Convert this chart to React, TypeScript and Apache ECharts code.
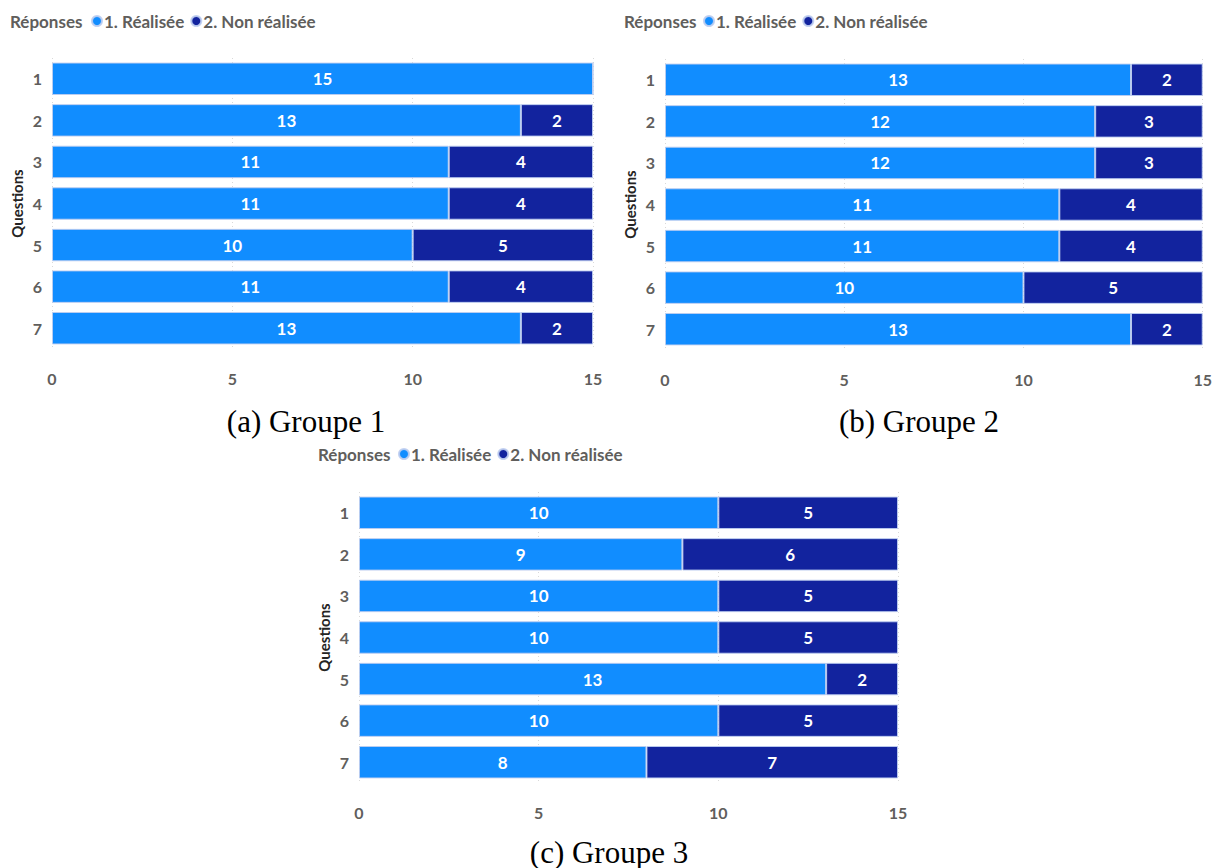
import React, { useEffect, useRef } from "react";
import * as echarts from "echarts";

const questions = ["1", "2", "3", "4", "5", "6", "7"];
const seriesNames = ["1. Réalisée", "2. Non réalisée"];
const xTicks = { min: 0, max: 15, interval: 5 };

const g1Done = [15, 13, 11, 11, 10, 11, 13];
const g1NotDone = [0, 2, 4, 4, 5, 4, 2];
const g2Done = [13, 12, 12, 11, 11, 10, 13];
const g2NotDone = [2, 3, 3, 4, 4, 5, 2];
const g3Done = [10, 9, 10, 10, 13, 10, 8];
const g3NotDone = [5, 6, 5, 5, 2, 5, 7];

const captions = ["(a) Groupe 1", "(b) Groupe 2", "(c) Groupe 3"];
const legendTitle = "Réponses";
const axisName = "Questions";

const LIGHT = "#118DFF";
const DARK = "#12239E";
const GRAY = "#605E5C";
const FONT = "Lato, 'Open Sans', sans-serif";

export default function App() {
  const ref = useRef<HTMLDivElement>(null);
  useEffect(() => {
    document.body.style.margin = "0";
    const chart = echarts.init(ref.current!, null, { renderer: "svg" });
    const grids = [
      { left: 52, top: 58, width: 541, height: 291 },
      { left: 665, top: 59, width: 538, height: 291 },
      { left: 359, top: 492, width: 539, height: 291 },
    ];
    const data = [
      [g1Done, g1NotDone],
      [g2Done, g2NotDone],
      [g3Done, g3NotDone],
    ];
    const legendPos = [
      { title: 10, legend: 91, top: 12 },
      { title: 624, legend: 703, top: 12 },
      { title: 318, legend: 398, top: 445 },
    ];
    const captionPos = [
      { x: 306, y: 421 },
      { x: 919, y: 421 },
      { x: 609, y: 852 },
    ];
    const series: any[] = [];
    data.forEach((pair, gi) => {
      pair.forEach((vals, si) => {
        series.push({
          type: "bar",
          name: seriesNames[si],
          stack: "g" + gi,
          xAxisIndex: gi,
          yAxisIndex: gi,
          barCategoryGap: "22%",
          itemStyle: {
            color: si === 0 ? LIGHT : DARK,
            borderColor: "rgba(190,205,240,0.9)",
            borderWidth: 1,
          },
          label: {
            show: true,
            position: "inside",
            color: "#ffffff",
            fontWeight: "bold",
            fontSize: 17,
            fontFamily: FONT,
            formatter: (p: any) => (p.value > 0 ? String(p.value) : ""),
          },
          data: vals,
        });
      });
    });
    chart.setOption({
      animation: false,
      grid: grids.map((g) => ({ ...g, containLabel: false })),
      title: legendPos.map((l) => ({
        text: legendTitle,
        left: l.title,
        top: l.top,
        padding: 0,
        textStyle: { color: GRAY, fontWeight: "bold", fontSize: 17, fontFamily: FONT, lineHeight: 18 },
      })),
      legend: legendPos.map((l) => ({
        data: seriesNames,
        left: l.legend,
        top: l.top,
        icon: "circle",
        itemWidth: 10,
        itemHeight: 10,
        itemGap: 6,
        padding: 0,
        textStyle: { color: GRAY, fontWeight: "bold", fontSize: 17, fontFamily: FONT, lineHeight: 18, padding: [0, 0, 0, -3] },
      })),
      xAxis: grids.map((_, i) => ({
        type: "value",
        gridIndex: i,
        min: xTicks.min,
        max: xTicks.max,
        interval: xTicks.interval,
        axisLine: { show: false },
        axisTick: { show: false },
        splitLine: { show: true, lineStyle: { color: "#d9d9d9", type: [1, 3] } },
        axisLabel: { color: GRAY, fontWeight: "bold", fontSize: 16, fontFamily: FONT, margin: 21 },
      })),
      yAxis: grids.map((_, i) => ({
        type: "category",
        gridIndex: i,
        inverse: true,
        data: questions,
        axisLine: { show: false },
        axisTick: { show: false },
        splitLine: { show: false },
        axisLabel: { color: GRAY, fontWeight: "bold", fontSize: 16, fontFamily: FONT, margin: 10 },
        name: axisName,
        nameLocation: "middle",
        nameRotate: 90,
        nameGap: 28,
        nameTextStyle: { color: "#252423", fontWeight: "bold", fontSize: 15, fontFamily: FONT },
      })),
      series,
      graphic: captions.map((c, i) => ({
        type: "text",
        x: captionPos[i].x,
        y: captionPos[i].y,
        style: {
          text: c,
          fill: "#000000",
          font: "31px 'Liberation Serif', serif",
          textAlign: "center",
          textVerticalAlign: "middle",
        },
      })),
    });
    return () => chart.dispose();
  }, []);
  return (
    <div
      ref={ref}
      style={{ position: "absolute", left: 0, top: 0, width: 1215, height: 868, background: "#fff" }}
    />
  );
}
